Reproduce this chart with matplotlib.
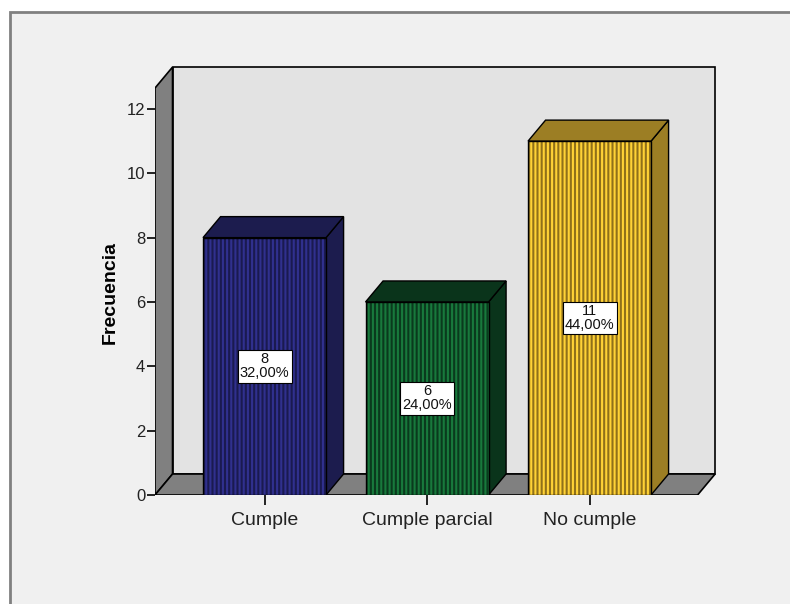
import matplotlib
matplotlib.use("Agg")
import matplotlib.pyplot as plt
from matplotlib.patches import Polygon, Rectangle

plt.rcParams["font.family"] = ["Liberation Sans", "DejaVu Sans"]
plt.rcParams["hatch.linewidth"] = 1.5

# Datos
categorias = ["Cumple", "Cumple parcial", "No cumple"]
frecuencias = [8, 6, 11]
yticks = [0, 2, 4, 6, 8, 10, 12]

# Colores de cada barra: fondo, rayas, caras superior/lateral
fondo = ["#1a1a50", "#0a3a1d", "#8f701a"]
rayas = ["#30308e", "#18793c", "#ffd236"]
caras = ["#1c1c4e", "#0a341b", "#9c7e24"]

total = sum(frecuencias)
x = list(range(len(categorias)))

# Geometria de la caja 3D (unidades de datos)
xl, xr = -0.674, 2.665
ymax = 12.65
dx, dy = 0.108, 0.653
ancho = 0.757

fig = plt.figure(figsize=(7.9, 6.04), dpi=100)
fig.patch.set_facecolor("white")
fig.add_artist(Rectangle((10 / 790, -0.02), 1.0, 1 - 12 / 604 + 0.02,
                         transform=fig.transFigure, facecolor="#f0f0f0",
                         edgecolor="#808080", lw=2, zorder=-10))

ax = fig.add_axes([155 / 790, 109 / 604, 565 / 790, 435 / 604])
ax.set_xlim(xl, xl + 565 / 162.5)
ax.set_ylim(0, 435 / 32.17)
ax.patch.set_visible(False)
for s in ax.spines.values():
    s.set_visible(False)

# Pared del fondo, pared lateral y suelo
ax.add_patch(Rectangle((xl + dx, dy), xr - xl, ymax, facecolor="#e3e3e3",
                       edgecolor="black", lw=1.2, zorder=1))
ax.add_patch(Polygon([(xl, 0), (xl, ymax), (xl + dx, ymax + dy), (xl + dx, dy)],
                     facecolor="#808080", edgecolor="black", lw=1.2, zorder=2))
ax.add_patch(Polygon([(xl, 0), (xr, 0), (xr + dx, dy), (xl + dx, dy)],
                     facecolor="#808080", edgecolor="black", lw=1.2, zorder=2))

# Barras
for i, v in enumerate(frecuencias):
    x0, x1 = x[i] - ancho / 2, x[i] + ancho / 2
    ax.add_patch(Polygon([(x1, 0), (x1, v), (x1 + dx, v + dy), (x1 + dx, dy)],
                         facecolor=caras[i], edgecolor="black", lw=1, zorder=3))
    ax.add_patch(Polygon([(x0, v), (x1, v), (x1 + dx, v + dy), (x0 + dx, v + dy)],
                         facecolor=caras[i], edgecolor="black", lw=1, zorder=3))

ax.bar(x, frecuencias, width=ancho, color=fondo, edgecolor=rayas,
       hatch="||||", lw=0, zorder=4)
ax.bar(x, frecuencias, width=ancho, fill=False, edgecolor="black", lw=1, zorder=5)

for i, v in enumerate(frecuencias):
    pct = f"{100 * v / total:.2f}".replace(".", ",")
    ax.text(x[i], v / 2, f"{v}\n{pct}%", ha="center", va="center", fontsize=10.5,
            linespacing=1.0, color="#111111", zorder=6,
            bbox=dict(boxstyle="square,pad=0.15", facecolor="white",
                      edgecolor="black", lw=0.8))

ax.set_yticks(yticks)
ax.set_xticks(x)
ax.set_xticklabels(categorias)
ax.tick_params(axis="y", direction="out", length=6, width=1.2, pad=1,
               labelsize=12, colors="black", labelcolor="#222222")
ax.tick_params(axis="x", direction="out", length=7, width=1.2, pad=5,
               labelsize=14, colors="black", labelcolor="#222222")

fig.text(110 / 790, 1 - 292 / 604, "Frecuencia", rotation=90, ha="center",
         va="center", fontsize=14, fontweight="bold")

fig.savefig("out.png", dpi=100, facecolor=fig.get_facecolor())
